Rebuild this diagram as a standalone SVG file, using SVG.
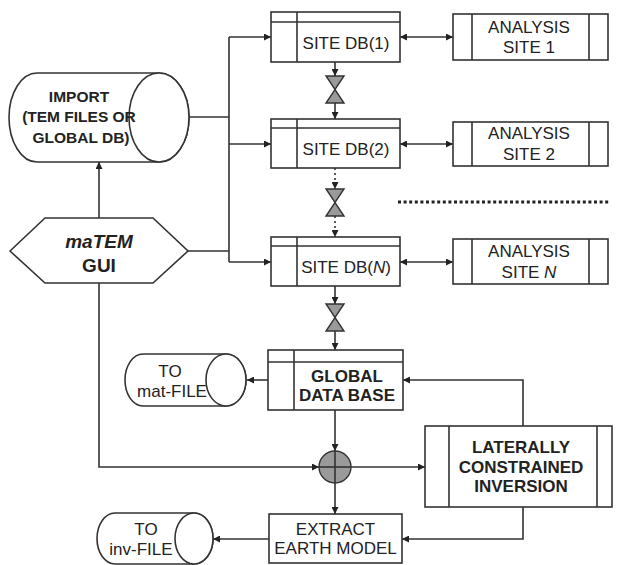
<svg xmlns="http://www.w3.org/2000/svg" width="619" height="565" viewBox="0 0 619 565">
<style>
.s{fill:#fff;stroke:#333;stroke-width:1.6}
.l{fill:none;stroke:#333;stroke-width:1.6}
.d{fill:none;stroke:#333;stroke-width:1.6;stroke-dasharray:2,3}
.v{fill:#9a9a9a;stroke:#333;stroke-width:1.4}
.t{font-family:"Liberation Sans",Arial,sans-serif;font-size:17px;fill:#222;text-anchor:middle}
.b{font-weight:bold}
</style>
<defs>
<marker id="ah" viewBox="0 0 10 10" refX="10" refY="5" markerWidth="8" markerHeight="7" orient="auto-start-reverse" markerUnits="userSpaceOnUse"><path d="M0,0 L10,5 L0,10 z" fill="#222"/></marker>
</defs>
<rect width="619" height="565" fill="#fff"/>

<g id="connectors">
<polyline class="l" points="189,117 229,117"/>
<line class="l" x1="229" y1="37" x2="229" y2="262"/>
<line class="l" x1="229" y1="37" x2="271" y2="37" marker-end="url(#ah)"/>
<line class="l" x1="229" y1="144" x2="271" y2="144" marker-end="url(#ah)"/>
<line class="l" x1="229" y1="262" x2="271" y2="262" marker-end="url(#ah)"/>
<line class="l" x1="188" y1="251" x2="229" y2="251"/>
<line class="l" x1="99" y1="218" x2="99" y2="162" marker-end="url(#ah)"/>
<polyline class="l" points="99,283 99,467 319,467" marker-end="url(#ah)"/>
<line class="l" x1="400" y1="37" x2="453" y2="37" marker-start="url(#ah)" marker-end="url(#ah)"/>
<line class="l" x1="400" y1="144" x2="453" y2="144" marker-start="url(#ah)" marker-end="url(#ah)"/>
<line class="l" x1="400" y1="262" x2="453" y2="262" marker-start="url(#ah)" marker-end="url(#ah)"/>
<line class="l" x1="335" y1="62" x2="335" y2="76" marker-end="url(#ah)"/>
<line class="l" x1="335" y1="103" x2="335" y2="119" marker-end="url(#ah)"/>
<line class="d" x1="335" y1="168" x2="335" y2="189" marker-end="url(#ah)"/>
<line class="d" x1="335" y1="216" x2="335" y2="237" marker-end="url(#ah)"/>
<line class="l" x1="335" y1="286" x2="335" y2="304" marker-end="url(#ah)"/>
<line class="l" x1="335" y1="331" x2="335" y2="350" marker-end="url(#ah)"/>
<line class="l" x1="268" y1="380" x2="247" y2="380" marker-end="url(#ah)"/>
<line class="l" x1="335" y1="410" x2="335" y2="451" marker-end="url(#ah)"/>
<line class="l" x1="351" y1="467" x2="425" y2="467" marker-end="url(#ah)"/>
<line class="l" x1="335" y1="483" x2="335" y2="514" marker-end="url(#ah)"/>
<polyline class="l" points="523,426 523,380 403,380" marker-end="url(#ah)"/>
<polyline class="l" points="523,507 523,539 402,539" marker-end="url(#ah)"/>
<line class="l" x1="269" y1="539" x2="213" y2="539" marker-end="url(#ah)"/>
<line x1="398" y1="202" x2="610" y2="202" stroke="#222" stroke-width="3.2" stroke-dasharray="3,2.6"/>
</g>

<g id="import">
<path class="s" d="M37,73 L159,73 A30,44.5 0 0 1 159,162 L37,162 A28,44.5 0 0 1 37,73 Z"/>
<ellipse class="s" cx="159" cy="117.5" rx="30" ry="44.5" fill="none"/>
<text class="t b" style="font-size:15.5px" x="79" y="102">IMPORT</text>
<text class="t b" style="font-size:15.5px" x="79" y="122">(TEM FILES OR</text>
<text class="t b" style="font-size:15.5px" x="81" y="143">GLOBAL DB)</text>
</g>

<g id="gui">
<polygon class="s" points="10,251 45,218 153,218 188,251 153,283 45,283"/>
<text class="t b" style="font-size:19px;font-style:italic" x="99" y="248">maTEM</text>
<text class="t b" style="font-size:19px" x="99" y="272">GUI</text>
</g>

<g id="sitedb1">
<rect class="s" x="271" y="12" width="129" height="50"/>
<line class="l" x1="271" y1="22" x2="400" y2="22"/>
<line class="l" x1="297" y1="12" x2="297" y2="62"/>
<text class="t" x="346" y="49">SITE DB(1)</text>
</g>
<g id="sitedb2">
<rect class="s" x="271" y="119" width="129" height="49"/>
<line class="l" x1="271" y1="128" x2="400" y2="128"/>
<line class="l" x1="297" y1="119" x2="297" y2="168"/>
<text class="t" x="346" y="155">SITE DB(2)</text>
</g>
<g id="sitedbn">
<rect class="s" x="271" y="237" width="129" height="49"/>
<line class="l" x1="271" y1="246" x2="400" y2="246"/>
<line class="l" x1="297" y1="237" x2="297" y2="286"/>
<text class="t" x="346" y="273">SITE DB(<tspan font-style="italic">N</tspan>)</text>
</g>

<g id="valve1">
<path class="v" d="M326,76 L344,76 L335,89.5 Z M326,103 L344,103 L335,89.5 Z"/>
</g>
<g id="valve2">
<path class="v" d="M326,189 L344,189 L335,202.5 Z M326,216 L344,216 L335,202.5 Z"/>
</g>
<g id="valve3">
<path class="v" d="M326,304 L344,304 L335,317.5 Z M326,331 L344,331 L335,317.5 Z"/>
</g>

<g id="analysis1">
<rect class="s" x="453" y="14" width="155" height="46"/>
<line class="l" x1="472" y1="14" x2="472" y2="60"/>
<line class="l" x1="589" y1="14" x2="589" y2="60"/>
<text class="t" x="529" y="33">ANALYSIS</text>
<text class="t" x="529" y="53">SITE 1</text>
</g>
<g id="analysis2">
<rect class="s" x="453" y="122" width="155" height="44"/>
<line class="l" x1="472" y1="122" x2="472" y2="166"/>
<line class="l" x1="589" y1="122" x2="589" y2="166"/>
<text class="t" x="529" y="139">ANALYSIS</text>
<text class="t" x="529" y="160">SITE 2</text>
</g>
<g id="analysisn">
<rect class="s" x="453" y="239" width="155" height="45"/>
<line class="l" x1="472" y1="239" x2="472" y2="284"/>
<line class="l" x1="589" y1="239" x2="589" y2="284"/>
<text class="t" x="529" y="257">ANALYSIS</text>
<text class="t" x="529" y="278">SITE <tspan font-style="italic">N</tspan></text>
</g>

<g id="globaldb">
<rect class="s" x="268" y="350" width="135" height="60"/>
<line class="l" x1="268" y1="362" x2="403" y2="362"/>
<line class="l" x1="294" y1="350" x2="294" y2="410"/>
<text class="t b" x="347" y="382">GLOBAL</text>
<text class="t b" x="347" y="401">DATA BASE</text>
</g>

<g id="matfile">
<path class="s" d="M143,354 L226,354 A20,26 0 0 1 226,406 L143,406 A18,26 0 0 1 143,354 Z"/>
<ellipse class="s" cx="226" cy="380" rx="20" ry="26" fill="none"/>
<text class="t" x="170" y="377">TO</text>
<text class="t" x="172" y="397">mat-FILE</text>
</g>

<g id="junction">
<circle class="v" cx="335" cy="467" r="16"/>
<line class="l" x1="319" y1="467" x2="351" y2="467"/>
<line class="l" x1="335" y1="451" x2="335" y2="483"/>
</g>

<g id="lci">
<rect class="s" x="425" y="426" width="187" height="81"/>
<line class="l" x1="449" y1="426" x2="449" y2="507"/>
<line class="l" x1="597" y1="426" x2="597" y2="507"/>
<text class="t b" x="521" y="453">LATERALLY</text>
<text class="t b" x="521" y="473">CONSTRAINED</text>
<text class="t b" x="521" y="492">INVERSION</text>
</g>

<g id="extract">
<rect class="s" x="269" y="514" width="133" height="49"/>
<text class="t" x="335.5" y="535">EXTRACT</text>
<text class="t" x="335.5" y="554">EARTH MODEL</text>
</g>

<g id="invfile">
<path class="s" d="M115,513 L194,513 A19,25.5 0 0 1 194,564 L115,564 A18,25.5 0 0 1 115,513 Z"/>
<ellipse class="s" cx="194" cy="538.5" rx="19" ry="25.5" fill="none"/>
<text class="t" x="146" y="535">TO</text>
<text class="t" x="141" y="555">inv-FILE</text>
</g>
</svg>
